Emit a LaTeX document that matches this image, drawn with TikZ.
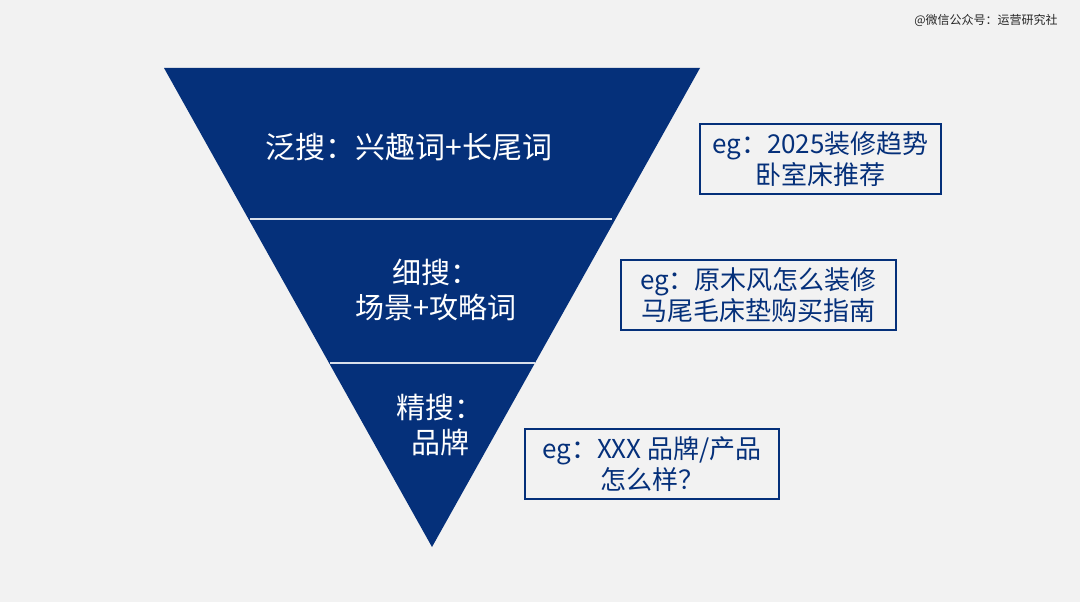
\documentclass[tikz,border=0pt]{standalone}
\usepackage{fontspec}
\setmainfont{Noto Sans CJK SC}
\definecolor{navy}{RGB}{5,48,122}
\definecolor{bg}{RGB}{242,242,242}
\begin{document}
\begin{tikzpicture}[x=1pt,y=-1pt,
  tier/.style={text=white,align=center,inner sep=0pt},
  egbox/.style={draw=navy,line width=1.3pt,text=navy,align=center,inner sep=0pt,
    font=\fontsize{26}{31}\selectfont},
  sep/.style={draw=white!85!navy,line width=2pt}]
\fill[bg] (0,0) rectangle (1080,602);
\useasboundingbox (0,0) rectangle (1080,602);
% funnel
\coordinate (tl) at (164,68);
\coordinate (tr) at (700,68);
\coordinate (apex) at (432,547);
\fill[navy] (tl) -- (tr) -- (apex) -- cycle;
\coordinate (s1a) at (250,219);
\coordinate (s1b) at (612,219);
\coordinate (s2a) at (330,363);
\coordinate (s2b) at (535,363);
\draw[sep] (s1a) -- (s1b);
\draw[sep] (s2a) -- (s2b);
% tier labels
\node[tier,font=\fontsize{30}{36}\selectfont] (t1) at (409,147) {泛搜：兴趣词+长尾词};
\node[tier,font=\fontsize{29}{35}\selectfont] (t2) at (436,290) {细搜：\\场景+攻略词};
\node[tier,font=\fontsize{29}{35}\selectfont] (t3) at (440,425) {精搜：\\品牌};
% example boxes
\node[egbox,minimum width=241pt,minimum height=70pt] (b1) at (820.5,159) {eg：2025装修趋势\\卧室床推荐};
\node[egbox,minimum width=275pt,minimum height=70pt] (b2) at (758.5,295) {eg：原木风怎么装修\\马尾毛床垫购买指南};
\node[egbox,minimum width=254pt,minimum height=70pt] (b3) at (652,464) {eg：XXX 品牌/产品\\怎么样？};
% watermark
\node[inner sep=0pt,font=\fontsize{12}{14}\selectfont,text=black!85] (wm) at (986,20) {@微信公众号：运营研究社};
\end{tikzpicture}
\end{document}
